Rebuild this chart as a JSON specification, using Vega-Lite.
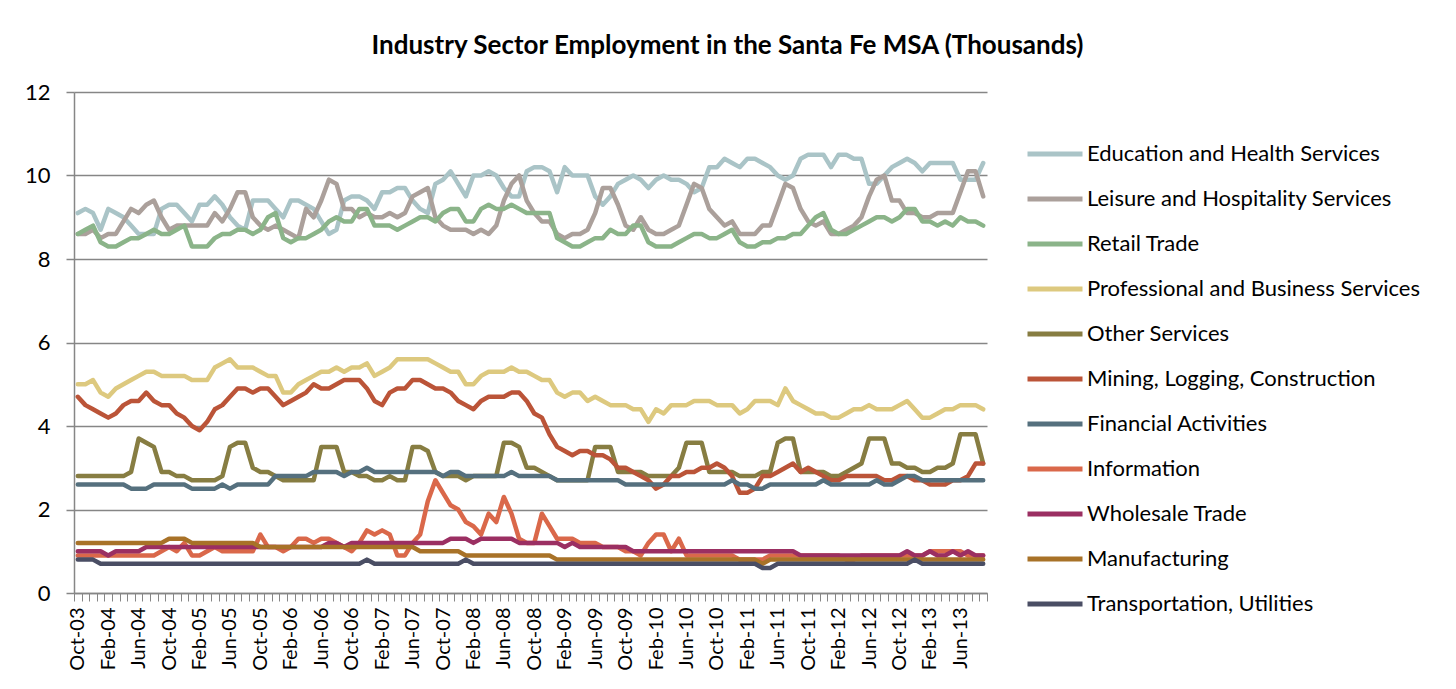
{
"$schema": "https://vega.github.io/schema/vega-lite/v6.json",
"width": 913,
"height": 501,
"autosize": {"type": "none"},
"padding": {"left": 74, "top": 92, "right": 469, "bottom": 96},
"background": "white",
"config": {"font": "Lato", "view": {"stroke": null}},
"title": {"text": "Industry Sector Employment in the Santa Fe MSA (Thousands)", "fontSize": 26, "font": "Lato", "fontWeight": "bold", "color": "black", "anchor": "middle", "frame": "group", "dx": 197, "offset": 22},
"data": {"values": [
{"m":"Oct-03","Edu":9.1,"Lei":8.6,"Ret":8.6,"Pro":5.0,"Oth":2.8,"Min":4.7,"Fin":2.6,"Inf":0.9,"Who":1.0,"Man":1.2,"Tra":0.8},
{"m":"Nov-03","Edu":9.2,"Lei":8.6,"Ret":8.7,"Pro":5.0,"Oth":2.8,"Min":4.5,"Fin":2.6,"Inf":0.9,"Who":1.0,"Man":1.2,"Tra":0.8},
{"m":"Dec-03","Edu":9.1,"Lei":8.7,"Ret":8.8,"Pro":5.1,"Oth":2.8,"Min":4.4,"Fin":2.6,"Inf":0.9,"Who":1.0,"Man":1.2,"Tra":0.8},
{"m":"Jan-04","Edu":8.7,"Lei":8.5,"Ret":8.4,"Pro":4.8,"Oth":2.8,"Min":4.3,"Fin":2.6,"Inf":0.9,"Who":1.0,"Man":1.2,"Tra":0.7},
{"m":"Feb-04","Edu":9.2,"Lei":8.6,"Ret":8.3,"Pro":4.7,"Oth":2.8,"Min":4.2,"Fin":2.6,"Inf":0.9,"Who":0.9,"Man":1.2,"Tra":0.7},
{"m":"Mar-04","Edu":9.1,"Lei":8.6,"Ret":8.3,"Pro":4.9,"Oth":2.8,"Min":4.3,"Fin":2.6,"Inf":0.9,"Who":1.0,"Man":1.2,"Tra":0.7},
{"m":"Apr-04","Edu":9.0,"Lei":8.9,"Ret":8.4,"Pro":5.0,"Oth":2.8,"Min":4.5,"Fin":2.6,"Inf":0.9,"Who":1.0,"Man":1.2,"Tra":0.7},
{"m":"May-04","Edu":8.8,"Lei":9.2,"Ret":8.5,"Pro":5.1,"Oth":2.9,"Min":4.6,"Fin":2.5,"Inf":0.9,"Who":1.0,"Man":1.2,"Tra":0.7},
{"m":"Jun-04","Edu":8.6,"Lei":9.1,"Ret":8.5,"Pro":5.2,"Oth":3.7,"Min":4.6,"Fin":2.5,"Inf":0.9,"Who":1.0,"Man":1.2,"Tra":0.7},
{"m":"Jul-04","Edu":8.6,"Lei":9.3,"Ret":8.6,"Pro":5.3,"Oth":3.6,"Min":4.8,"Fin":2.5,"Inf":0.9,"Who":1.1,"Man":1.2,"Tra":0.7},
{"m":"Aug-04","Edu":8.6,"Lei":9.4,"Ret":8.7,"Pro":5.3,"Oth":3.5,"Min":4.6,"Fin":2.6,"Inf":0.9,"Who":1.1,"Man":1.2,"Tra":0.7},
{"m":"Sep-04","Edu":9.2,"Lei":9.0,"Ret":8.6,"Pro":5.2,"Oth":2.9,"Min":4.5,"Fin":2.6,"Inf":1.0,"Who":1.1,"Man":1.2,"Tra":0.7},
{"m":"Oct-04","Edu":9.3,"Lei":8.7,"Ret":8.6,"Pro":5.2,"Oth":2.9,"Min":4.5,"Fin":2.6,"Inf":1.1,"Who":1.1,"Man":1.3,"Tra":0.7},
{"m":"Nov-04","Edu":9.3,"Lei":8.8,"Ret":8.7,"Pro":5.2,"Oth":2.8,"Min":4.3,"Fin":2.6,"Inf":1.0,"Who":1.1,"Man":1.3,"Tra":0.7},
{"m":"Dec-04","Edu":9.1,"Lei":8.8,"Ret":8.8,"Pro":5.2,"Oth":2.8,"Min":4.2,"Fin":2.6,"Inf":1.2,"Who":1.1,"Man":1.3,"Tra":0.7},
{"m":"Jan-05","Edu":8.9,"Lei":8.8,"Ret":8.3,"Pro":5.1,"Oth":2.7,"Min":4.0,"Fin":2.5,"Inf":0.9,"Who":1.1,"Man":1.2,"Tra":0.7},
{"m":"Feb-05","Edu":9.3,"Lei":8.8,"Ret":8.3,"Pro":5.1,"Oth":2.7,"Min":3.9,"Fin":2.5,"Inf":0.9,"Who":1.1,"Man":1.2,"Tra":0.7},
{"m":"Mar-05","Edu":9.3,"Lei":8.8,"Ret":8.3,"Pro":5.1,"Oth":2.7,"Min":4.1,"Fin":2.5,"Inf":1.0,"Who":1.1,"Man":1.2,"Tra":0.7},
{"m":"Apr-05","Edu":9.5,"Lei":9.1,"Ret":8.5,"Pro":5.4,"Oth":2.7,"Min":4.4,"Fin":2.5,"Inf":1.1,"Who":1.1,"Man":1.2,"Tra":0.7},
{"m":"May-05","Edu":9.3,"Lei":8.9,"Ret":8.6,"Pro":5.5,"Oth":2.8,"Min":4.5,"Fin":2.6,"Inf":1.0,"Who":1.1,"Man":1.2,"Tra":0.7},
{"m":"Jun-05","Edu":9.0,"Lei":9.2,"Ret":8.6,"Pro":5.6,"Oth":3.5,"Min":4.7,"Fin":2.5,"Inf":1.0,"Who":1.1,"Man":1.2,"Tra":0.7},
{"m":"Jul-05","Edu":8.8,"Lei":9.6,"Ret":8.7,"Pro":5.4,"Oth":3.6,"Min":4.9,"Fin":2.6,"Inf":1.0,"Who":1.1,"Man":1.2,"Tra":0.7},
{"m":"Aug-05","Edu":8.7,"Lei":9.6,"Ret":8.7,"Pro":5.4,"Oth":3.6,"Min":4.9,"Fin":2.6,"Inf":1.0,"Who":1.1,"Man":1.2,"Tra":0.7},
{"m":"Sep-05","Edu":9.4,"Lei":9.0,"Ret":8.6,"Pro":5.4,"Oth":3.0,"Min":4.8,"Fin":2.6,"Inf":1.0,"Who":1.1,"Man":1.2,"Tra":0.7},
{"m":"Oct-05","Edu":9.4,"Lei":8.8,"Ret":8.7,"Pro":5.3,"Oth":2.9,"Min":4.9,"Fin":2.6,"Inf":1.4,"Who":1.1,"Man":1.1,"Tra":0.7},
{"m":"Nov-05","Edu":9.4,"Lei":8.7,"Ret":9.0,"Pro":5.2,"Oth":2.9,"Min":4.9,"Fin":2.6,"Inf":1.1,"Who":1.1,"Man":1.1,"Tra":0.7},
{"m":"Dec-05","Edu":9.2,"Lei":8.8,"Ret":9.1,"Pro":5.2,"Oth":2.8,"Min":4.7,"Fin":2.8,"Inf":1.1,"Who":1.1,"Man":1.1,"Tra":0.7},
{"m":"Jan-06","Edu":9.0,"Lei":8.7,"Ret":8.5,"Pro":4.8,"Oth":2.7,"Min":4.5,"Fin":2.8,"Inf":1.0,"Who":1.1,"Man":1.1,"Tra":0.7},
{"m":"Feb-06","Edu":9.4,"Lei":8.6,"Ret":8.4,"Pro":4.8,"Oth":2.7,"Min":4.6,"Fin":2.8,"Inf":1.1,"Who":1.1,"Man":1.1,"Tra":0.7},
{"m":"Mar-06","Edu":9.4,"Lei":8.5,"Ret":8.5,"Pro":5.0,"Oth":2.7,"Min":4.7,"Fin":2.8,"Inf":1.3,"Who":1.1,"Man":1.1,"Tra":0.7},
{"m":"Apr-06","Edu":9.3,"Lei":9.2,"Ret":8.5,"Pro":5.1,"Oth":2.7,"Min":4.8,"Fin":2.8,"Inf":1.3,"Who":1.1,"Man":1.1,"Tra":0.7},
{"m":"May-06","Edu":9.2,"Lei":9.0,"Ret":8.6,"Pro":5.2,"Oth":2.7,"Min":5.0,"Fin":2.9,"Inf":1.2,"Who":1.1,"Man":1.1,"Tra":0.7},
{"m":"Jun-06","Edu":8.9,"Lei":9.4,"Ret":8.7,"Pro":5.3,"Oth":3.5,"Min":4.9,"Fin":2.9,"Inf":1.3,"Who":1.1,"Man":1.1,"Tra":0.7},
{"m":"Jul-06","Edu":8.6,"Lei":9.9,"Ret":8.9,"Pro":5.3,"Oth":3.5,"Min":4.9,"Fin":2.9,"Inf":1.3,"Who":1.2,"Man":1.1,"Tra":0.7},
{"m":"Aug-06","Edu":8.7,"Lei":9.8,"Ret":9.0,"Pro":5.4,"Oth":3.5,"Min":5.0,"Fin":2.9,"Inf":1.2,"Who":1.2,"Man":1.1,"Tra":0.7},
{"m":"Sep-06","Edu":9.4,"Lei":9.2,"Ret":8.9,"Pro":5.3,"Oth":2.9,"Min":5.1,"Fin":2.8,"Inf":1.1,"Who":1.1,"Man":1.1,"Tra":0.7},
{"m":"Oct-06","Edu":9.5,"Lei":9.2,"Ret":8.9,"Pro":5.4,"Oth":2.9,"Min":5.1,"Fin":2.9,"Inf":1.0,"Who":1.2,"Man":1.1,"Tra":0.7},
{"m":"Nov-06","Edu":9.5,"Lei":9.0,"Ret":9.2,"Pro":5.4,"Oth":2.8,"Min":5.1,"Fin":2.9,"Inf":1.2,"Who":1.2,"Man":1.1,"Tra":0.7},
{"m":"Dec-06","Edu":9.4,"Lei":9.1,"Ret":9.2,"Pro":5.5,"Oth":2.8,"Min":4.9,"Fin":3.0,"Inf":1.5,"Who":1.2,"Man":1.1,"Tra":0.8},
{"m":"Jan-07","Edu":9.2,"Lei":9.0,"Ret":8.8,"Pro":5.2,"Oth":2.7,"Min":4.6,"Fin":2.9,"Inf":1.4,"Who":1.2,"Man":1.1,"Tra":0.7},
{"m":"Feb-07","Edu":9.6,"Lei":9.0,"Ret":8.8,"Pro":5.3,"Oth":2.7,"Min":4.5,"Fin":2.9,"Inf":1.5,"Who":1.2,"Man":1.1,"Tra":0.7},
{"m":"Mar-07","Edu":9.6,"Lei":9.1,"Ret":8.8,"Pro":5.4,"Oth":2.8,"Min":4.8,"Fin":2.9,"Inf":1.4,"Who":1.2,"Man":1.1,"Tra":0.7},
{"m":"Apr-07","Edu":9.7,"Lei":9.0,"Ret":8.7,"Pro":5.6,"Oth":2.7,"Min":4.9,"Fin":2.9,"Inf":0.9,"Who":1.2,"Man":1.1,"Tra":0.7},
{"m":"May-07","Edu":9.7,"Lei":9.1,"Ret":8.8,"Pro":5.6,"Oth":2.7,"Min":4.9,"Fin":2.9,"Inf":0.9,"Who":1.2,"Man":1.1,"Tra":0.7},
{"m":"Jun-07","Edu":9.4,"Lei":9.5,"Ret":8.9,"Pro":5.6,"Oth":3.5,"Min":5.1,"Fin":2.9,"Inf":1.2,"Who":1.2,"Man":1.1,"Tra":0.7},
{"m":"Jul-07","Edu":9.2,"Lei":9.6,"Ret":9.0,"Pro":5.6,"Oth":3.5,"Min":5.1,"Fin":2.9,"Inf":1.4,"Who":1.2,"Man":1.0,"Tra":0.7},
{"m":"Aug-07","Edu":9.1,"Lei":9.7,"Ret":9.0,"Pro":5.6,"Oth":3.4,"Min":5.0,"Fin":2.9,"Inf":2.2,"Who":1.2,"Man":1.0,"Tra":0.7},
{"m":"Sep-07","Edu":9.8,"Lei":9.0,"Ret":8.9,"Pro":5.5,"Oth":2.9,"Min":4.9,"Fin":2.9,"Inf":2.7,"Who":1.2,"Man":1.0,"Tra":0.7},
{"m":"Oct-07","Edu":9.9,"Lei":8.8,"Ret":9.1,"Pro":5.4,"Oth":2.8,"Min":4.9,"Fin":2.8,"Inf":2.4,"Who":1.2,"Man":1.0,"Tra":0.7},
{"m":"Nov-07","Edu":10.1,"Lei":8.7,"Ret":9.2,"Pro":5.3,"Oth":2.8,"Min":4.8,"Fin":2.9,"Inf":2.1,"Who":1.3,"Man":1.0,"Tra":0.7},
{"m":"Dec-07","Edu":9.8,"Lei":8.7,"Ret":9.2,"Pro":5.3,"Oth":2.8,"Min":4.6,"Fin":2.9,"Inf":2.0,"Who":1.3,"Man":1.0,"Tra":0.7},
{"m":"Jan-08","Edu":9.5,"Lei":8.7,"Ret":8.9,"Pro":5.0,"Oth":2.7,"Min":4.5,"Fin":2.8,"Inf":1.7,"Who":1.3,"Man":0.9,"Tra":0.8},
{"m":"Feb-08","Edu":10.0,"Lei":8.6,"Ret":8.9,"Pro":5.0,"Oth":2.8,"Min":4.4,"Fin":2.8,"Inf":1.6,"Who":1.2,"Man":0.9,"Tra":0.7},
{"m":"Mar-08","Edu":10.0,"Lei":8.7,"Ret":9.2,"Pro":5.2,"Oth":2.8,"Min":4.6,"Fin":2.8,"Inf":1.4,"Who":1.3,"Man":0.9,"Tra":0.7},
{"m":"Apr-08","Edu":10.1,"Lei":8.6,"Ret":9.3,"Pro":5.3,"Oth":2.8,"Min":4.7,"Fin":2.8,"Inf":1.9,"Who":1.3,"Man":0.9,"Tra":0.7},
{"m":"May-08","Edu":10.0,"Lei":8.8,"Ret":9.2,"Pro":5.3,"Oth":2.8,"Min":4.7,"Fin":2.8,"Inf":1.7,"Who":1.3,"Man":0.9,"Tra":0.7},
{"m":"Jun-08","Edu":9.7,"Lei":9.4,"Ret":9.2,"Pro":5.3,"Oth":3.6,"Min":4.7,"Fin":2.8,"Inf":2.3,"Who":1.3,"Man":0.9,"Tra":0.7},
{"m":"Jul-08","Edu":9.5,"Lei":9.8,"Ret":9.3,"Pro":5.4,"Oth":3.6,"Min":4.8,"Fin":2.9,"Inf":1.9,"Who":1.3,"Man":0.9,"Tra":0.7},
{"m":"Aug-08","Edu":9.5,"Lei":10.0,"Ret":9.2,"Pro":5.3,"Oth":3.5,"Min":4.8,"Fin":2.8,"Inf":1.3,"Who":1.2,"Man":0.9,"Tra":0.7},
{"m":"Sep-08","Edu":10.1,"Lei":9.4,"Ret":9.1,"Pro":5.3,"Oth":3.0,"Min":4.6,"Fin":2.8,"Inf":1.2,"Who":1.2,"Man":0.9,"Tra":0.7},
{"m":"Oct-08","Edu":10.2,"Lei":9.1,"Ret":9.1,"Pro":5.2,"Oth":3.0,"Min":4.3,"Fin":2.8,"Inf":1.2,"Who":1.2,"Man":0.9,"Tra":0.7},
{"m":"Nov-08","Edu":10.2,"Lei":8.9,"Ret":9.1,"Pro":5.1,"Oth":2.9,"Min":4.2,"Fin":2.8,"Inf":1.9,"Who":1.2,"Man":0.9,"Tra":0.7},
{"m":"Dec-08","Edu":10.1,"Lei":8.9,"Ret":9.1,"Pro":5.1,"Oth":2.8,"Min":3.8,"Fin":2.8,"Inf":1.6,"Who":1.2,"Man":0.9,"Tra":0.7},
{"m":"Jan-09","Edu":9.6,"Lei":8.6,"Ret":8.5,"Pro":4.8,"Oth":2.7,"Min":3.5,"Fin":2.7,"Inf":1.3,"Who":1.2,"Man":0.8,"Tra":0.7},
{"m":"Feb-09","Edu":10.2,"Lei":8.5,"Ret":8.4,"Pro":4.7,"Oth":2.7,"Min":3.4,"Fin":2.7,"Inf":1.3,"Who":1.1,"Man":0.8,"Tra":0.7},
{"m":"Mar-09","Edu":10.0,"Lei":8.6,"Ret":8.3,"Pro":4.8,"Oth":2.7,"Min":3.3,"Fin":2.7,"Inf":1.3,"Who":1.2,"Man":0.8,"Tra":0.7},
{"m":"Apr-09","Edu":10.0,"Lei":8.6,"Ret":8.3,"Pro":4.8,"Oth":2.7,"Min":3.4,"Fin":2.7,"Inf":1.2,"Who":1.1,"Man":0.8,"Tra":0.7},
{"m":"May-09","Edu":10.0,"Lei":8.7,"Ret":8.4,"Pro":4.6,"Oth":2.7,"Min":3.4,"Fin":2.7,"Inf":1.2,"Who":1.1,"Man":0.8,"Tra":0.7},
{"m":"Jun-09","Edu":9.5,"Lei":9.1,"Ret":8.5,"Pro":4.7,"Oth":3.5,"Min":3.3,"Fin":2.7,"Inf":1.2,"Who":1.1,"Man":0.8,"Tra":0.7},
{"m":"Jul-09","Edu":9.3,"Lei":9.7,"Ret":8.5,"Pro":4.6,"Oth":3.5,"Min":3.3,"Fin":2.7,"Inf":1.1,"Who":1.1,"Man":0.8,"Tra":0.7},
{"m":"Aug-09","Edu":9.5,"Lei":9.7,"Ret":8.7,"Pro":4.5,"Oth":3.5,"Min":3.2,"Fin":2.7,"Inf":1.1,"Who":1.1,"Man":0.8,"Tra":0.7},
{"m":"Sep-09","Edu":9.8,"Lei":9.3,"Ret":8.6,"Pro":4.5,"Oth":2.9,"Min":3.0,"Fin":2.7,"Inf":1.1,"Who":1.1,"Man":0.8,"Tra":0.7},
{"m":"Oct-09","Edu":9.9,"Lei":8.8,"Ret":8.6,"Pro":4.5,"Oth":2.9,"Min":3.0,"Fin":2.6,"Inf":1.0,"Who":1.1,"Man":0.8,"Tra":0.7},
{"m":"Nov-09","Edu":10.0,"Lei":8.7,"Ret":8.8,"Pro":4.4,"Oth":2.9,"Min":2.9,"Fin":2.6,"Inf":1.0,"Who":1.0,"Man":0.8,"Tra":0.7},
{"m":"Dec-09","Edu":9.9,"Lei":9.0,"Ret":8.8,"Pro":4.4,"Oth":2.9,"Min":2.8,"Fin":2.6,"Inf":0.9,"Who":1.0,"Man":0.8,"Tra":0.7},
{"m":"Jan-10","Edu":9.7,"Lei":8.7,"Ret":8.4,"Pro":4.1,"Oth":2.8,"Min":2.7,"Fin":2.6,"Inf":1.2,"Who":1.0,"Man":0.8,"Tra":0.7},
{"m":"Feb-10","Edu":9.9,"Lei":8.6,"Ret":8.3,"Pro":4.4,"Oth":2.8,"Min":2.5,"Fin":2.6,"Inf":1.4,"Who":1.0,"Man":0.8,"Tra":0.7},
{"m":"Mar-10","Edu":10.0,"Lei":8.6,"Ret":8.3,"Pro":4.3,"Oth":2.8,"Min":2.6,"Fin":2.6,"Inf":1.4,"Who":1.0,"Man":0.8,"Tra":0.7},
{"m":"Apr-10","Edu":9.9,"Lei":8.7,"Ret":8.3,"Pro":4.5,"Oth":2.8,"Min":2.8,"Fin":2.6,"Inf":1.0,"Who":1.0,"Man":0.8,"Tra":0.7},
{"m":"May-10","Edu":9.9,"Lei":8.8,"Ret":8.4,"Pro":4.5,"Oth":3.0,"Min":2.8,"Fin":2.6,"Inf":1.3,"Who":1.0,"Man":0.8,"Tra":0.7},
{"m":"Jun-10","Edu":9.8,"Lei":9.3,"Ret":8.5,"Pro":4.5,"Oth":3.6,"Min":2.9,"Fin":2.6,"Inf":0.9,"Who":1.0,"Man":0.8,"Tra":0.7},
{"m":"Jul-10","Edu":9.6,"Lei":9.8,"Ret":8.6,"Pro":4.6,"Oth":3.6,"Min":2.9,"Fin":2.6,"Inf":0.9,"Who":1.0,"Man":0.8,"Tra":0.7},
{"m":"Aug-10","Edu":9.7,"Lei":9.7,"Ret":8.6,"Pro":4.6,"Oth":3.6,"Min":3.0,"Fin":2.6,"Inf":0.9,"Who":1.0,"Man":0.8,"Tra":0.7},
{"m":"Sep-10","Edu":10.2,"Lei":9.2,"Ret":8.5,"Pro":4.6,"Oth":2.9,"Min":3.0,"Fin":2.6,"Inf":0.9,"Who":1.0,"Man":0.8,"Tra":0.7},
{"m":"Oct-10","Edu":10.2,"Lei":9.0,"Ret":8.5,"Pro":4.5,"Oth":2.9,"Min":3.1,"Fin":2.6,"Inf":0.9,"Who":1.0,"Man":0.8,"Tra":0.7},
{"m":"Nov-10","Edu":10.4,"Lei":8.8,"Ret":8.6,"Pro":4.5,"Oth":2.9,"Min":3.0,"Fin":2.6,"Inf":0.9,"Who":1.0,"Man":0.8,"Tra":0.7},
{"m":"Dec-10","Edu":10.3,"Lei":8.9,"Ret":8.7,"Pro":4.5,"Oth":2.9,"Min":2.8,"Fin":2.7,"Inf":0.9,"Who":1.0,"Man":0.8,"Tra":0.7},
{"m":"Jan-11","Edu":10.2,"Lei":8.6,"Ret":8.4,"Pro":4.3,"Oth":2.8,"Min":2.4,"Fin":2.6,"Inf":0.8,"Who":1.0,"Man":0.8,"Tra":0.7},
{"m":"Feb-11","Edu":10.4,"Lei":8.6,"Ret":8.3,"Pro":4.4,"Oth":2.8,"Min":2.4,"Fin":2.6,"Inf":0.8,"Who":1.0,"Man":0.8,"Tra":0.7},
{"m":"Mar-11","Edu":10.4,"Lei":8.6,"Ret":8.3,"Pro":4.6,"Oth":2.8,"Min":2.5,"Fin":2.5,"Inf":0.8,"Who":1.0,"Man":0.8,"Tra":0.7},
{"m":"Apr-11","Edu":10.3,"Lei":8.8,"Ret":8.4,"Pro":4.6,"Oth":2.9,"Min":2.8,"Fin":2.5,"Inf":0.8,"Who":1.0,"Man":0.7,"Tra":0.6},
{"m":"May-11","Edu":10.2,"Lei":8.8,"Ret":8.4,"Pro":4.6,"Oth":2.9,"Min":2.8,"Fin":2.6,"Inf":0.9,"Who":1.0,"Man":0.8,"Tra":0.6},
{"m":"Jun-11","Edu":10.0,"Lei":9.3,"Ret":8.5,"Pro":4.5,"Oth":3.6,"Min":2.9,"Fin":2.6,"Inf":0.9,"Who":1.0,"Man":0.8,"Tra":0.7},
{"m":"Jul-11","Edu":9.9,"Lei":9.8,"Ret":8.5,"Pro":4.9,"Oth":3.7,"Min":3.0,"Fin":2.6,"Inf":0.9,"Who":1.0,"Man":0.8,"Tra":0.7},
{"m":"Aug-11","Edu":10.0,"Lei":9.7,"Ret":8.6,"Pro":4.6,"Oth":3.7,"Min":3.1,"Fin":2.6,"Inf":0.9,"Who":1.0,"Man":0.8,"Tra":0.7},
{"m":"Sep-11","Edu":10.4,"Lei":9.2,"Ret":8.6,"Pro":4.5,"Oth":2.9,"Min":2.9,"Fin":2.6,"Inf":0.9,"Who":0.9,"Man":0.8,"Tra":0.7},
{"m":"Oct-11","Edu":10.5,"Lei":8.9,"Ret":8.8,"Pro":4.4,"Oth":2.9,"Min":3.0,"Fin":2.6,"Inf":0.9,"Who":0.9,"Man":0.8,"Tra":0.7},
{"m":"Nov-11","Edu":10.5,"Lei":8.8,"Ret":9.0,"Pro":4.3,"Oth":2.9,"Min":2.9,"Fin":2.6,"Inf":0.9,"Who":0.9,"Man":0.8,"Tra":0.7},
{"m":"Dec-11","Edu":10.5,"Lei":8.9,"Ret":9.1,"Pro":4.3,"Oth":2.9,"Min":2.8,"Fin":2.7,"Inf":0.9,"Who":0.9,"Man":0.8,"Tra":0.7},
{"m":"Jan-12","Edu":10.2,"Lei":8.6,"Ret":8.7,"Pro":4.2,"Oth":2.8,"Min":2.7,"Fin":2.6,"Inf":0.9,"Who":0.9,"Man":0.8,"Tra":0.7},
{"m":"Feb-12","Edu":10.5,"Lei":8.6,"Ret":8.6,"Pro":4.2,"Oth":2.8,"Min":2.7,"Fin":2.6,"Inf":0.9,"Who":0.9,"Man":0.8,"Tra":0.7},
{"m":"Mar-12","Edu":10.5,"Lei":8.7,"Ret":8.6,"Pro":4.3,"Oth":2.9,"Min":2.8,"Fin":2.6,"Inf":0.8,"Who":0.9,"Man":0.8,"Tra":0.7},
{"m":"Apr-12","Edu":10.4,"Lei":8.8,"Ret":8.7,"Pro":4.4,"Oth":3.0,"Min":2.8,"Fin":2.6,"Inf":0.8,"Who":0.9,"Man":0.8,"Tra":0.7},
{"m":"May-12","Edu":10.4,"Lei":9.0,"Ret":8.8,"Pro":4.4,"Oth":3.1,"Min":2.8,"Fin":2.6,"Inf":0.9,"Who":0.9,"Man":0.8,"Tra":0.7},
{"m":"Jun-12","Edu":9.8,"Lei":9.5,"Ret":8.9,"Pro":4.5,"Oth":3.7,"Min":2.8,"Fin":2.6,"Inf":0.9,"Who":0.9,"Man":0.8,"Tra":0.7},
{"m":"Jul-12","Edu":9.8,"Lei":9.9,"Ret":9.0,"Pro":4.4,"Oth":3.7,"Min":2.8,"Fin":2.7,"Inf":0.9,"Who":0.9,"Man":0.8,"Tra":0.7},
{"m":"Aug-12","Edu":10.0,"Lei":10.0,"Ret":9.0,"Pro":4.4,"Oth":3.7,"Min":2.7,"Fin":2.6,"Inf":0.9,"Who":0.9,"Man":0.8,"Tra":0.7},
{"m":"Sep-12","Edu":10.2,"Lei":9.4,"Ret":8.9,"Pro":4.4,"Oth":3.1,"Min":2.7,"Fin":2.6,"Inf":0.9,"Who":0.9,"Man":0.8,"Tra":0.7},
{"m":"Oct-12","Edu":10.3,"Lei":9.4,"Ret":9.0,"Pro":4.5,"Oth":3.1,"Min":2.8,"Fin":2.7,"Inf":0.9,"Who":0.9,"Man":0.8,"Tra":0.7},
{"m":"Nov-12","Edu":10.4,"Lei":9.1,"Ret":9.2,"Pro":4.6,"Oth":3.0,"Min":2.8,"Fin":2.8,"Inf":0.9,"Who":1.0,"Man":0.8,"Tra":0.7},
{"m":"Dec-12","Edu":10.3,"Lei":9.1,"Ret":9.2,"Pro":4.4,"Oth":3.0,"Min":2.7,"Fin":2.8,"Inf":0.9,"Who":0.9,"Man":0.8,"Tra":0.8},
{"m":"Jan-13","Edu":10.1,"Lei":9.0,"Ret":8.9,"Pro":4.2,"Oth":2.9,"Min":2.7,"Fin":2.7,"Inf":0.9,"Who":0.9,"Man":0.8,"Tra":0.7},
{"m":"Feb-13","Edu":10.3,"Lei":9.0,"Ret":8.9,"Pro":4.2,"Oth":2.9,"Min":2.6,"Fin":2.7,"Inf":1.0,"Who":1.0,"Man":0.8,"Tra":0.7},
{"m":"Mar-13","Edu":10.3,"Lei":9.1,"Ret":8.8,"Pro":4.3,"Oth":3.0,"Min":2.6,"Fin":2.7,"Inf":1.0,"Who":0.9,"Man":0.8,"Tra":0.7},
{"m":"Apr-13","Edu":10.3,"Lei":9.1,"Ret":8.9,"Pro":4.4,"Oth":3.0,"Min":2.6,"Fin":2.7,"Inf":1.0,"Who":0.9,"Man":0.8,"Tra":0.7},
{"m":"May-13","Edu":10.3,"Lei":9.1,"Ret":8.8,"Pro":4.4,"Oth":3.1,"Min":2.7,"Fin":2.7,"Inf":1.0,"Who":1.0,"Man":0.8,"Tra":0.7},
{"m":"Jun-13","Edu":9.9,"Lei":9.6,"Ret":9.0,"Pro":4.5,"Oth":3.8,"Min":2.7,"Fin":2.7,"Inf":1.0,"Who":0.9,"Man":0.8,"Tra":0.7},
{"m":"Jul-13","Edu":9.9,"Lei":10.1,"Ret":8.9,"Pro":4.5,"Oth":3.8,"Min":2.8,"Fin":2.7,"Inf":0.9,"Who":1.0,"Man":0.8,"Tra":0.7},
{"m":"Aug-13","Edu":9.9,"Lei":10.1,"Ret":8.9,"Pro":4.5,"Oth":3.8,"Min":3.1,"Fin":2.7,"Inf":0.9,"Who":0.9,"Man":0.8,"Tra":0.7},
{"m":"Sep-13","Edu":10.3,"Lei":9.5,"Ret":8.8,"Pro":4.4,"Oth":3.1,"Min":3.1,"Fin":2.7,"Inf":0.9,"Who":0.9,"Man":0.8,"Tra":0.7}
]},
"transform": [
  {"fold": ["Edu","Lei","Ret","Pro","Oth","Min","Fin","Inf","Who","Man","Tra"], "as": ["key","value"]},
  {"lookup": "key", "from": {"data": {"values": [
    {"key":"Edu","name":"Education and Health Services"},
    {"key":"Lei","name":"Leisure and Hospitality Services"},
    {"key":"Ret","name":"Retail Trade"},
    {"key":"Pro","name":"Professional and Business Services"},
    {"key":"Oth","name":"Other Services"},
    {"key":"Min","name":"Mining, Logging, Construction"},
    {"key":"Fin","name":"Financial Activities"},
    {"key":"Inf","name":"Information"},
    {"key":"Who","name":"Wholesale Trade"},
    {"key":"Man","name":"Manufacturing"},
    {"key":"Tra","name":"Transportation, Utilities"}
  ]}, "key": "key", "fields": ["name"]}}
],
"mark": {"type": "line", "strokeWidth": 4.5, "strokeJoin": "round", "strokeCap": "round"},
"encoding": {
  "x": {"field": "m", "type": "ordinal", "sort": null, "bandPosition": 0.5,
    "scale": {"type": "band", "paddingInner": 0, "paddingOuter": 0},
    "axis": {"title": null, "labelAngle": -90, "labelAlign": "right", "labelBaseline": "middle",
      "labelExpr": "test(/^(Oct|Feb|Jun)/, datum.value) ? datum.value : ''",
      "tickBand": "extent", "domainColor": "#868686", "domainWidth": 1.5, "tickColor": "#868686", "tickWidth": 1, "tickSize": 8,
      "labelFontSize": 20, "labelColor": "black", "labelPadding": 6, "labelFont": "Lato", "grid": false}},
  "y": {"field": "value", "type": "quantitative", "scale": {"domain": [0, 12]},
    "axis": {"title": null, "values": [0, 2, 4, 6, 8, 10, 12], "gridColor": "#868686", "gridWidth": 1.5,
      "domainColor": "#868686", "domainWidth": 1.5, "tickColor": "#868686", "tickSize": 8, "tickWidth": 1.5,
      "labelFontSize": 22, "labelColor": "black", "labelPadding": 16, "labelFont": "Lato"}},
  "color": {"field": "name", "type": "nominal",
    "scale": {"domain": ["Education and Health Services","Leisure and Hospitality Services","Retail Trade","Professional and Business Services","Other Services","Mining, Logging, Construction","Financial Activities","Information","Wholesale Trade","Manufacturing","Transportation, Utilities"],
      "range": ["#AAC4C7","#ABA09B","#8BB489","#DDC97F","#877D42","#BB5438","#55707E","#DA684A","#9B2F62","#A87228","#4A4E64"]},
    "legend": {"orient": "none", "legendX": 951, "legendY": 32, "title": null, "padding": 0,
      "symbolType": "stroke", "symbolSize": 3025, "symbolStrokeWidth": 5,
      "labelFontSize": 22, "labelFont": "Lato", "labelColor": "black", "labelOffset": 2, "labelLimit": 600, "rowPadding": 4}}
}
}
